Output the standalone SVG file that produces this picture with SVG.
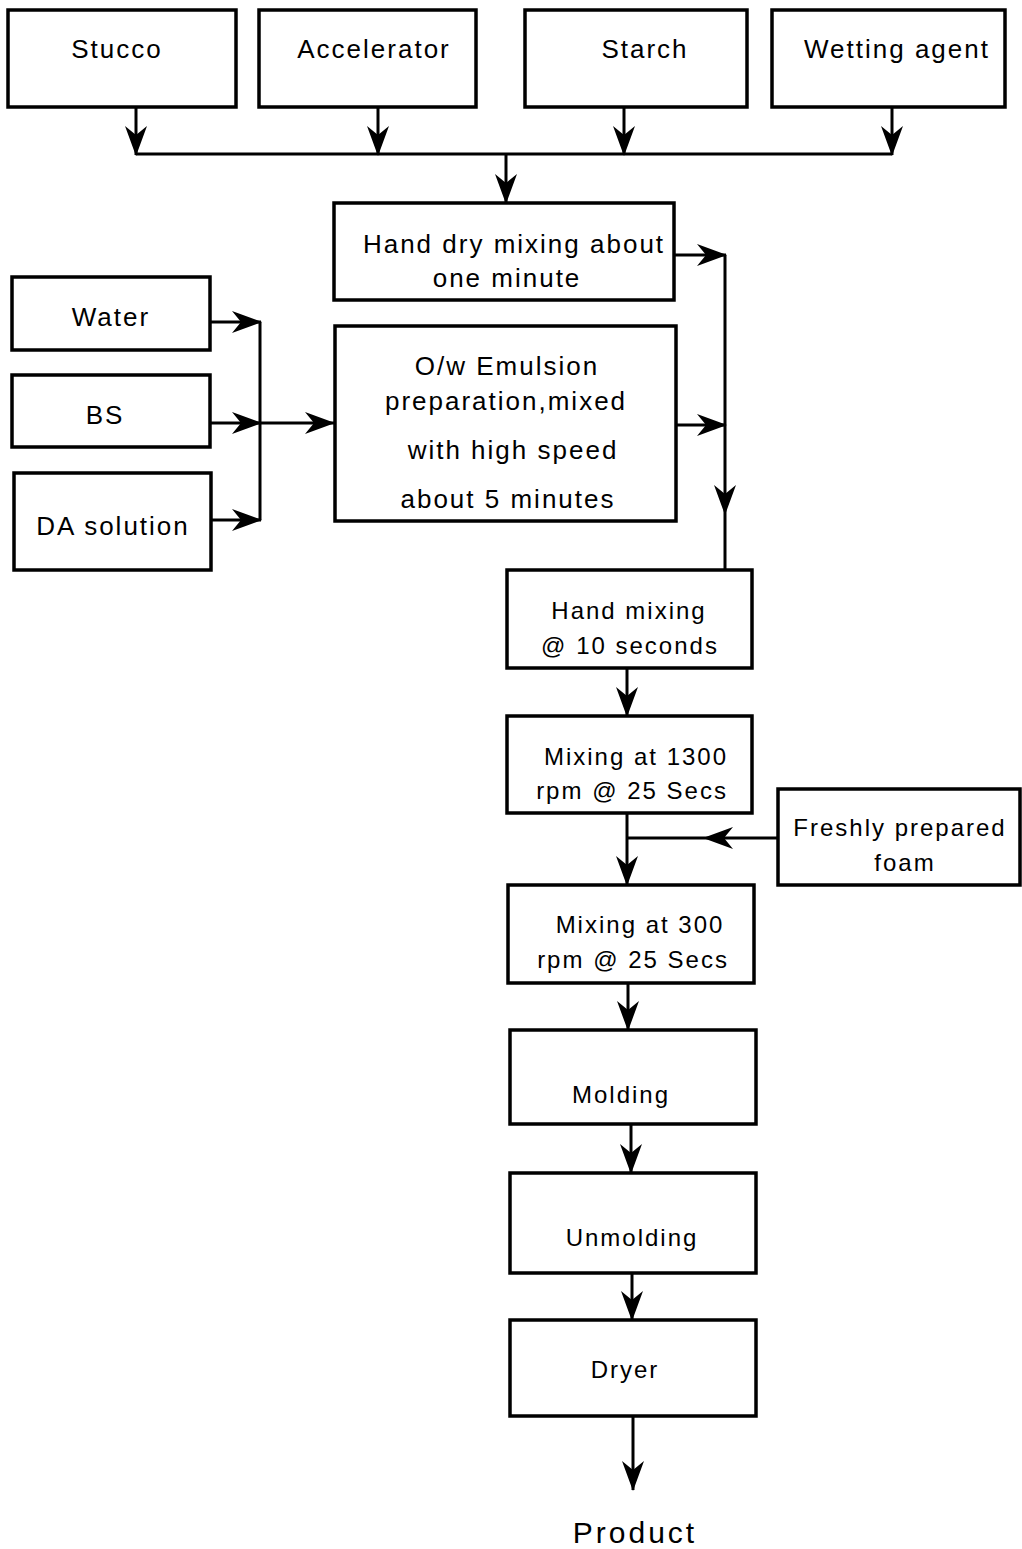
<svg xmlns="http://www.w3.org/2000/svg" width="1022" height="1549" viewBox="0 0 1022 1549">
<style>
.box{fill:#fff;stroke:#000;stroke-width:3.5}
.ln{fill:none;stroke:#000;stroke-width:3}
text{font-family:"Liberation Sans",Arial,sans-serif;font-size:26px;fill:#000;text-anchor:middle;letter-spacing:2px}
.sm{font-size:24px}
</style>
<defs>
<marker id="ah" viewBox="0 0 30 22" refX="29" refY="11" markerWidth="30" markerHeight="22" markerUnits="userSpaceOnUse" orient="auto">
<path d="M0,0 L30,11 L0,22 L9,11 z" fill="#000"/>
</marker>
</defs>
<rect width="1022" height="1549" fill="#fff"/>
<g id="stucco"><rect class="box" x="8" y="10" width="228" height="97"/><text x="117" y="58">Stucco</text></g>
<g id="accelerator"><rect class="box" x="259" y="10" width="217" height="97"/><text x="374" y="58">Accelerator</text></g>
<g id="starch"><rect class="box" x="525" y="10" width="222" height="97"/><text x="645" y="58">Starch</text></g>
<g id="wetting"><rect class="box" x="772" y="10" width="233" height="97"/><text x="897" y="58">Wetting agent</text></g>
<g id="handdry"><rect class="box" x="334" y="203" width="340" height="97"/><text x="514" y="253">Hand dry mixing about</text><text x="507" y="287">one minute</text></g>
<g id="water"><rect class="box" x="12" y="277" width="198" height="73"/><text x="111" y="326">Water</text></g>
<g id="bs"><rect class="box" x="12" y="375" width="198" height="72"/><text x="105" y="424">BS</text></g>
<g id="da"><rect class="box" x="14" y="473" width="197" height="97"/><text x="113" y="535">DA solution</text></g>
<g id="emulsion"><rect class="box" x="335" y="326" width="341" height="195"/><text x="507" y="375">O/w Emulsion</text><text x="506" y="410">preparation,mixed</text><text x="513" y="459">with high speed</text><text x="508" y="508">about 5 minutes</text></g>
<g id="handmix"><rect class="box" x="507" y="570" width="245" height="98"/><text class="sm" x="629" y="619">Hand mixing</text><text class="sm" x="630" y="654">@ 10 seconds</text></g>
<g id="mix1300"><rect class="box" x="507" y="716" width="245" height="97"/><text class="sm" x="636" y="765">Mixing at 1300</text><text class="sm" x="632" y="799">rpm @ 25 Secs</text></g>
<g id="foam"><rect class="box" x="778" y="789" width="242" height="96"/><text class="sm" x="900" y="836">Freshly prepared</text><text class="sm" x="905" y="871">foam</text></g>
<g id="mix300"><rect class="box" x="508" y="885" width="246" height="98"/><text class="sm" x="640" y="933">Mixing at 300</text><text class="sm" x="633" y="968">rpm @ 25 Secs</text></g>
<g id="molding"><rect class="box" x="510" y="1030" width="246" height="94"/><text class="sm" x="621" y="1103">Molding</text></g>
<g id="unmolding"><rect class="box" x="510" y="1173" width="246" height="100"/><text class="sm" x="632" y="1246">Unmolding</text></g>
<g id="dryer"><rect class="box" x="510" y="1320" width="246" height="96"/><text class="sm" x="625" y="1378">Dryer</text></g>
<g id="product"><text x="635" y="1543" style="font-size:30px;letter-spacing:3px">Product</text></g>
<g id="connectors">
<path class="ln" d="M136,107 V155" marker-end="url(#ah)"/>
<path class="ln" d="M378,107 V155" marker-end="url(#ah)"/>
<path class="ln" d="M624,107 V155" marker-end="url(#ah)"/>
<path class="ln" d="M892,107 V155" marker-end="url(#ah)"/>
<path class="ln" d="M136,154 H892"/>
<path class="ln" d="M506,154 V203" marker-end="url(#ah)"/>
<path class="ln" d="M210,322 H261" marker-end="url(#ah)"/>
<path class="ln" d="M210,423 H261" marker-end="url(#ah)"/>
<path class="ln" d="M211,520 H261" marker-end="url(#ah)"/>
<path class="ln" d="M260,322 V520"/>
<path class="ln" d="M260,423 H334" marker-end="url(#ah)"/>
<path class="ln" d="M674,255 H726" marker-end="url(#ah)"/>
<path class="ln" d="M676,425 H726" marker-end="url(#ah)"/>
<path class="ln" d="M725,255 V514" marker-end="url(#ah)"/>
<path class="ln" d="M725,514 V570"/>
<path class="ln" d="M627,668 V716" marker-end="url(#ah)"/>
<path class="ln" d="M627,813 V885" marker-end="url(#ah)"/>
<path class="ln" d="M778,838 H704" marker-end="url(#ah)"/>
<path class="ln" d="M704,838 H627"/>
<path class="ln" d="M628,983 V1030" marker-end="url(#ah)"/>
<path class="ln" d="M631,1124 V1173" marker-end="url(#ah)"/>
<path class="ln" d="M632,1273 V1320" marker-end="url(#ah)"/>
<path class="ln" d="M633,1416 V1490" marker-end="url(#ah)"/>
</g>
</svg>
